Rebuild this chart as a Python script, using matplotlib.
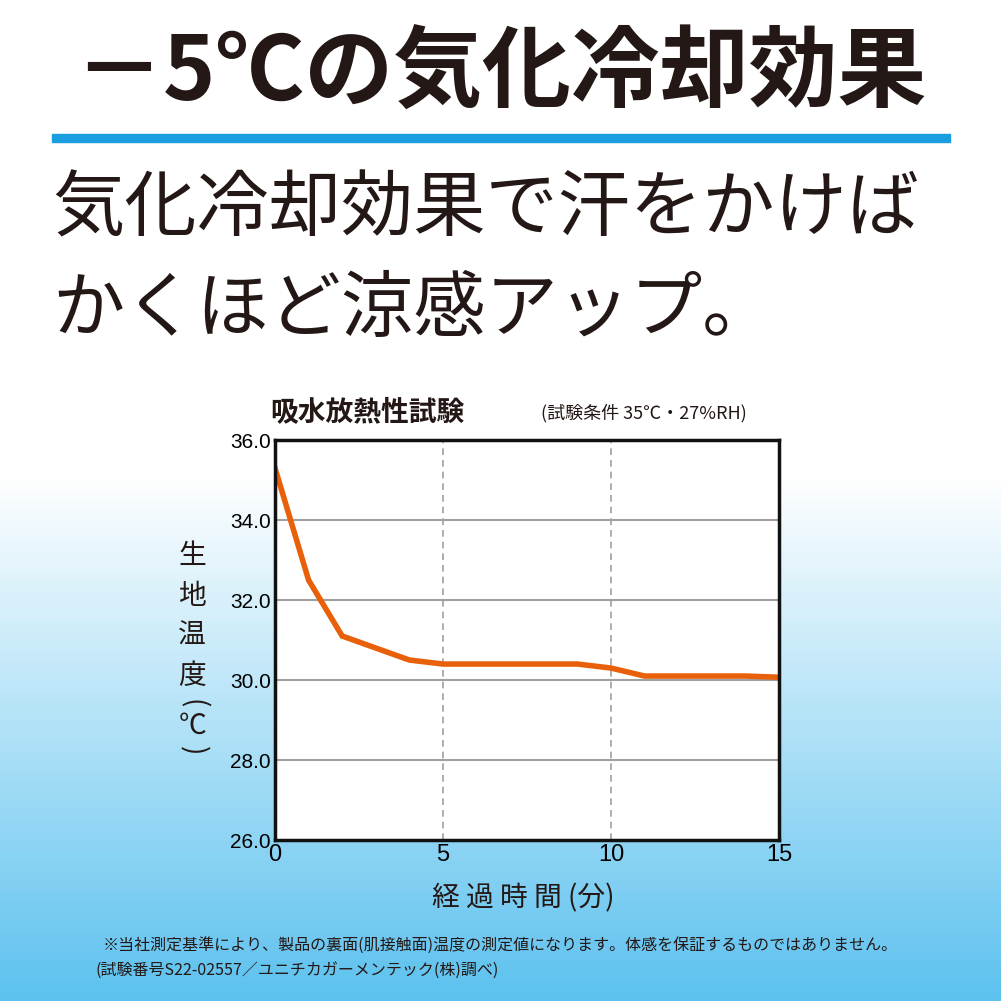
import matplotlib
matplotlib.use("Agg")
import matplotlib.pyplot as plt
import numpy as np
from matplotlib.colors import LinearSegmentedColormap

plt.rcParams['font.family'] = ['Noto Sans CJK JP', 'DejaVu Sans']

minutes = [0, 1, 2, 3, 4, 5, 6, 7, 8, 9, 10, 11, 12, 13, 14, 15]
temps = [35.3, 32.5, 31.1, 30.8, 30.5, 30.4, 30.4, 30.4, 30.4, 30.4, 30.3, 30.1, 30.1, 30.1, 30.1, 30.07]
yticks = [26.0, 28.0, 30.0, 32.0, 34.0, 36.0]
xticks = [0, 5, 10, 15]

fig = plt.figure(figsize=(10.01, 10.01), dpi=100)
bg = fig.add_axes([0, 0, 1, 1])
bg.set_axis_off()
grad = np.concatenate([np.zeros(47), np.linspace(0, 1, 53)])[:, None]
cmap = LinearSegmentedColormap.from_list('g', ['#ffffff', '#5ec2ef'])
bg.imshow(grad, aspect='auto', cmap=cmap, extent=[0, 1, 0, 1], origin='upper')
bg.set_xlim(0, 1); bg.set_ylim(0, 1)

fig.text(0.5, 0.925, '－5℃の気化冷却効果', ha='center', va='center', fontsize=64, fontweight='bold', color='#231815')
fig.add_artist(plt.Rectangle((0.052, 0.858), 0.897, 0.008, color='#1a9ee0', transform=fig.transFigure))
fig.text(0.052, 0.79, '気化冷却効果で汗をかけば', ha='left', va='center', fontsize=52, color='#231815')
fig.text(0.052, 0.69, 'かくほど涼感アップ。', ha='left', va='center', fontsize=52, color='#231815')

ax = fig.add_axes([0.2747, 0.1608, 0.5035, 0.3996])
ax.set_facecolor('white')
ax.plot(minutes, temps, color='#e8600a', lw=4, solid_joinstyle='miter')
ax.set_xlim(0, 15); ax.set_ylim(26, 36)
ax.set_xticks(xticks); ax.set_yticks(yticks)
ax.set_yticklabels([f'{v:.1f}' for v in yticks], fontsize=15, family='Liberation Sans')
ax.set_xticklabels([str(v) for v in xticks], fontsize=17, family='Liberation Sans')
ax.tick_params(length=0, pad=3)
for v in yticks[1:-1]:
    ax.axhline(v, color='#a0a0a0', lw=1.5, zorder=0)
for v in [5, 10]:
    ax.axvline(v, color='#a0a0a0', lw=1.2, ls=(0, (4, 3)), zorder=0)
for s in ax.spines.values():
    s.set_linewidth(2.5); s.set_color('#111111')

fig.text(0.27, 0.588, '吸水放熱性試験', fontsize=20, fontweight='bold', va='center', color='#231815')
fig.text(0.54, 0.587, '(試験条件 35℃・27%RH)', fontsize=13, va='center', color='#231815')
for i, ch in enumerate(['生', '地', '温', '度']):
    fig.text(0.192, 0.445 - i * 0.04, ch, fontsize=20, ha='center', va='center', color='#231815')
fig.text(0.192, 0.297, '(', fontsize=20, ha='center', va='center', color='#231815', rotation=-90)
fig.text(0.192, 0.275, '℃', fontsize=20, ha='center', va='center', color='#231815')
fig.text(0.192, 0.250, ')', fontsize=20, ha='center', va='center', color='#231815', rotation=-90)
fig.text(0.523, 0.103, '経 過 時 間 (分)', fontsize=20, ha='center', va='center', color='#231815')
fig.text(0.5, 0.056, '※当社測定基準により、製品の裏面(肌接触面)温度の測定値になります。体感を保証するものではありません。',
         fontsize=11.5, ha='center', va='center', color='#231815')
fig.text(0.095, 0.031, '(試験番号S22-02557／ユニチカガーメンテック(株)調べ)', fontsize=11.5, ha='left', va='center', color='#231815')

fig.savefig('out.png', dpi=100)
